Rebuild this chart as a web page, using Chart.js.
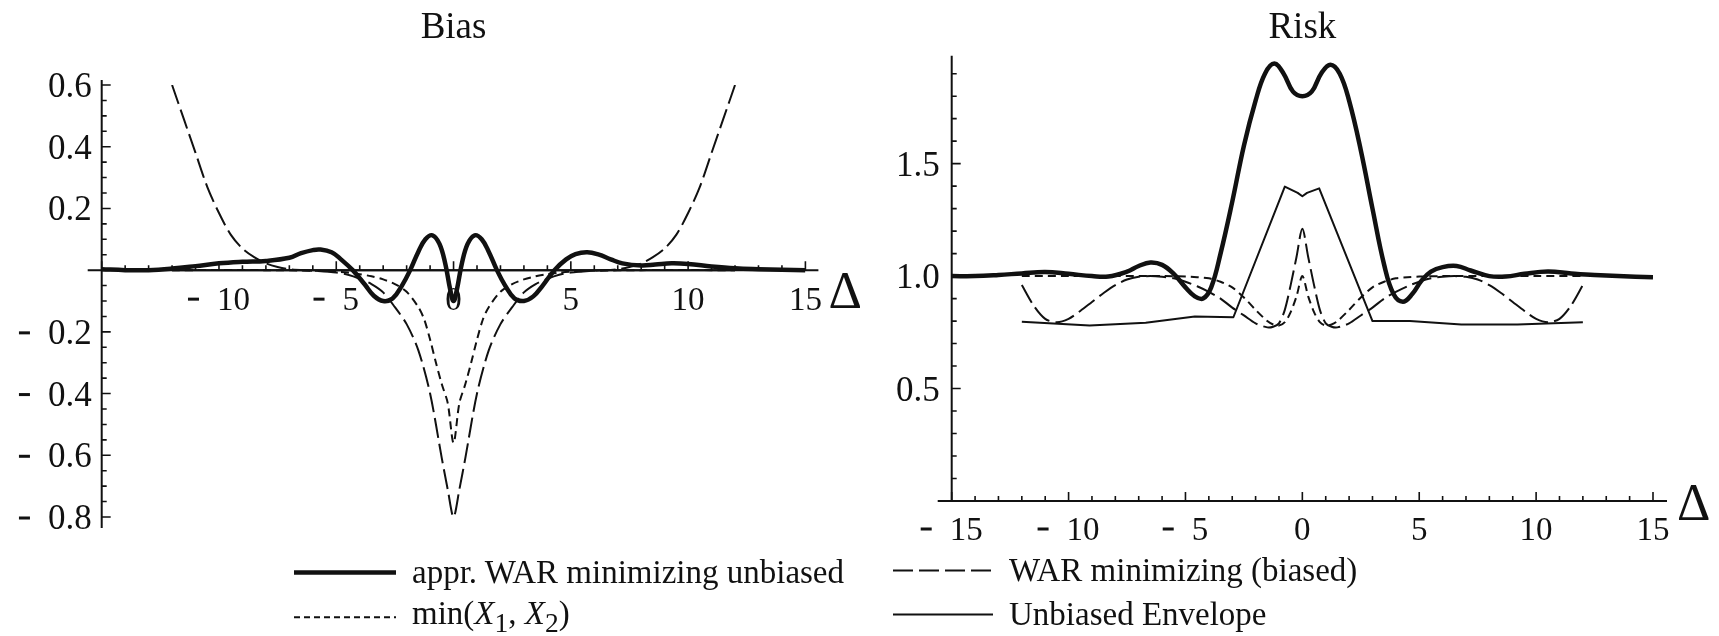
<!DOCTYPE html>
<html>
<head>
<meta charset="utf-8">
<script src="https://cdn.jsdelivr.net/npm/chart.js@4.4.1/dist/chart.umd.min.js"></script>
<style>
  html, body { margin: 0; padding: 0; background: #fff; }
  #page { position: relative; width: 1719px; height: 636px; overflow: hidden;
          font-family: "Liberation Serif", serif; color: #111; }
  #page canvas { position: absolute; left: 0; top: 0; }
  .key { position: absolute; display: flex; align-items: center; font-size: 33px;
         white-space: nowrap; transform: translateY(-50%); }
  .key svg { margin-right: 16px; }
</style>
</head>
<body>
<div id="page">
  <canvas id="bias" width="1719" height="636"></canvas>
  <canvas id="risk" width="1719" height="636"></canvas>

  <div class="key" style="left:294px; top:572px">
    <svg width="102" height="10"><line x1="0" y1="5" x2="102" y2="5" stroke="#111" stroke-width="4.5"/></svg>
    <span>appr. WAR minimizing unbiased</span>
  </div>
  <div class="key" style="left:294px; top:617px">
    <svg width="102" height="10"><line x1="0" y1="5" x2="102" y2="5" stroke="#111" stroke-width="2" stroke-dasharray="6 4"/></svg>
    <span>min(<i>X</i><sub>1</sub>, <i>X</i><sub>2</sub>)</span>
  </div>
  <div class="key" style="left:893px; top:570px">
    <svg width="100" height="10"><line x1="0" y1="5" x2="100" y2="5" stroke="#111" stroke-width="2" stroke-dasharray="20 6"/></svg>
    <span>WAR minimizing (biased)</span>
  </div>
  <div class="key" style="left:893px; top:614px">
    <svg width="100" height="10"><line x1="0" y1="5" x2="100" y2="5" stroke="#111" stroke-width="2"/></svg>
    <span>Unbiased Envelope</span>
  </div>
</div>

<script>
// ---- Bias panel ----
const biasWarX = [-15, -14, -13, -12, -11, -10, -9, -8, -7, -6.5, -6, -5.7, -5.2, -4.8, -4.3, -3.8, -3.4, -3, -2.6, -2.2, -1.85, -1.5, -1.2, -0.9, -0.6, -0.35, -0.15,
  0, 0.15, 0.35, 0.6, 0.9, 1.2, 1.5, 1.85, 2.2, 2.6, 3, 3.4, 3.8, 4.3, 4.8, 5.2, 5.7, 6.2, 6.7, 7.2, 8, 8.6, 9.3, 10, 11, 12, 13, 14, 15];
const biasWarY = [0.003, 0, 0, 0.005, 0.013, 0.022, 0.027, 0.03, 0.04, 0.055, 0.065, 0.067, 0.058, 0.035, 0, -0.045, -0.083, -0.1, -0.092, -0.05, 0, 0.06, 0.1, 0.113, 0.085, 0.02, -0.06,
  -0.1, -0.06, 0.02, 0.085, 0.113, 0.1, 0.06, 0, -0.05, -0.092, -0.1, -0.085, -0.05, 0, 0.035, 0.052, 0.058, 0.05, 0.035, 0.022, 0.015, 0.018, 0.022, 0.02, 0.012, 0.006, 0.003, 0.001, 0];

const biasBiasedX = [-12, -11.5, -11, -10.5, -10, -9.5, -9, -8.5, -8, -7.5, -7, -6, -5, -4.5, -4, -3.5, -3, -2.5, -2, -1.5, -1, -0.5, -0.25,
  0, 0.25, 0.5, 1, 1.5, 2, 2.5, 3, 3.5, 4, 4.5, 5, 6, 7, 7.5, 8, 8.5, 9, 9.5, 10, 10.5, 11, 11.5, 12];
const biasBiasedY = [0.6, 0.49, 0.38, 0.27, 0.185, 0.115, 0.07, 0.042, 0.022, 0.01, 0.003, -0.002, -0.008, -0.015, -0.028, -0.045, -0.072, -0.12, -0.175, -0.26, -0.4, -0.61, -0.71,
  -0.8, -0.71, -0.61, -0.4, -0.26, -0.175, -0.12, -0.072, -0.045, -0.028, -0.015, -0.008, -0.002, 0.003, 0.01, 0.022, 0.042, 0.07, 0.115, 0.185, 0.27, 0.38, 0.49, 0.6];

const biasMinX = [-12, -8, -6, -5, -4.5, -4, -3.5, -3, -2.5, -2, -1.5, -1.25, -1, -0.75, -0.5, -0.25,
  0, 0.25, 0.5, 0.75, 1, 1.25, 1.5, 2, 2.5, 3, 3.5, 4, 4.5, 5, 6, 8, 12];
const biasMinY = [0, 0, -0.002, -0.005, -0.008, -0.013, -0.02, -0.03, -0.045, -0.07, -0.12, -0.16, -0.225, -0.3, -0.37, -0.43,
  -0.56, -0.43, -0.37, -0.3, -0.225, -0.16, -0.12, -0.07, -0.045, -0.03, -0.02, -0.013, -0.008, -0.005, -0.002, 0, 0];

const biasEnvX = [-12, 12];
const biasEnvY = [0, 0];

const biasXTicks = [-10, -5, 0, 5, 10, 15];
const biasYTicks = [0.6, 0.4, 0.2, -0.2, -0.4, -0.6, -0.8];

// ---- Risk panel ----
const riskWarX = [-15, -14, -13, -12, -11, -10, -9, -8.3, -7.5, -7, -6.5, -6, -5.5, -5, -4.6, -4.25, -3.9, -3.5, -3, -2.5, -2, -1.6, -1.2, -0.8, -0.4,
  0, 0.4, 0.8, 1.2, 1.6, 2, 2.5, 3, 3.5, 3.9, 4.3, 4.7, 5.1, 5.5, 6, 6.6, 7.2, 8, 8.7, 9.5, 10.5, 11.5, 12.5, 13.5, 15];
const riskWarY = [1.0, 1.0, 1.005, 1.012, 1.018, 1.01, 1.0, 0.998, 1.02, 1.045, 1.06, 1.05, 1.01, 0.95, 0.91, 0.9, 0.95, 1.1, 1.33, 1.58, 1.78, 1.9, 1.945, 1.9, 1.82,
  1.8, 1.82, 1.9, 1.94, 1.9, 1.78, 1.56, 1.3, 1.05, 0.92, 0.886, 0.92, 0.98, 1.02, 1.04, 1.045, 1.025, 1.0, 0.998, 1.01, 1.02, 1.012, 1.005, 1.0, 0.995];

const riskBiasedX = [-12, -11.5, -11, -10.5, -10, -9.5, -9, -8.5, -8, -7.5, -7, -6.5, -6, -5.5, -5, -4.5, -4, -3.5, -3, -2.5, -2, -1.5, -1.25, -1, -0.75, -0.5, -0.25,
  0, 0.25, 0.5, 0.75, 1, 1.25, 1.5, 2, 2.5, 3, 3.5, 4, 4.5, 5, 5.5, 6, 6.5, 7, 7.5, 8, 8.5, 9, 9.5, 10, 10.5, 11, 11.5, 12];
const riskBiasedY = [0.96, 0.87, 0.81, 0.795, 0.81, 0.845, 0.885, 0.925, 0.96, 0.985, 0.997, 1.0, 0.997, 0.99, 0.975, 0.955, 0.93, 0.9, 0.86, 0.825, 0.79, 0.772, 0.775, 0.79, 0.85, 0.96, 1.085,
  1.21, 1.085, 0.96, 0.85, 0.79, 0.775, 0.772, 0.79, 0.825, 0.86, 0.9, 0.93, 0.955, 0.975, 0.99, 0.997, 1.0, 0.997, 0.985, 0.96, 0.925, 0.885, 0.845, 0.81, 0.795, 0.81, 0.87, 0.96];

const riskMinX = [-12, -10, -8, -6, -5, -4.5, -4, -3.5, -3, -2.5, -2, -1.5, -1.25, -1, -0.75, -0.5, -0.25,
  0, 0.25, 0.5, 0.75, 1, 1.25, 1.5, 2, 2.5, 3, 3.5, 4, 4.5, 5, 6, 8, 10, 12];
const riskMinY = [1, 1, 1, 1, 0.998, 0.995, 0.99, 0.975, 0.95, 0.905, 0.85, 0.8, 0.785, 0.78, 0.795, 0.84, 0.91,
  1.0, 0.91, 0.84, 0.795, 0.78, 0.785, 0.8, 0.85, 0.905, 0.95, 0.975, 0.99, 0.995, 0.998, 1, 1, 1, 1];

const riskEnvX = [-12, -9.1, -6.7, -4.6, -2.95, -0.75, -0.2, 0, 0.2, 0.72, 3.0, 4.6, 6.8, 9.2, 12];
const riskEnvY = [0.797, 0.78, 0.793, 0.82, 0.817, 1.398, 1.37, 1.355, 1.37, 1.39, 0.8, 0.8, 0.785, 0.785, 0.795];

const riskXTicks = [-15, -10, -5, 0, 5, 10, 15];
const riskYTicks = [0.5, 1.0, 1.5];

const INK = '#111';
const FONT = '"Liberation Serif", serif';

const points = (xs, ys) => xs.map((x, i) => ({ x, y: ys[i] }));

/**
 * Writes a tick number. Negative values get a short bar
 * set apart from the digits ("- 10"), the way the figure prints them.
 * align: 'center' centres the whole label on px, 'right' ends it at px.
 */
function tickNumber(ctx, v, digits, px, baseline, align) {
  const txt = Math.abs(v).toFixed(digits);
  const w = ctx.measureText(txt).width;
  const bar = 11, gap = 18;
  const total = w + (v < 0 ? bar + gap : 0);
  const left = align === 'center' ? px - total / 2 : px - total;
  ctx.textAlign = 'left';
  ctx.fillText(txt, left + total - w, baseline);
  if (v < 0) ctx.fillRect(left, baseline - 12.5, bar, 3);
}

/**
 * Draws axes through an origin with inward ticks, tick labels,
 * the panel title and the Delta label at the end of the x axis.
 */
const plotAxes = {
  id: 'plotAxes',
  beforeDatasetsDraw(chart, args, o) {
    const { ctx, scales: { x, y } } = chart;
    const ox = x.getPixelForValue(o.originX);
    const oy = y.getPixelForValue(o.originY);
    ctx.save();
    ctx.strokeStyle = INK;
    ctx.fillStyle = INK;

    ctx.lineWidth = 2;
    ctx.beginPath();
    ctx.moveTo(ox - o.xAxisPad[0], oy);
    ctx.lineTo(x.getPixelForValue(x.max) + o.xAxisPad[1], oy);
    ctx.moveTo(ox, y.getPixelForValue(y.max) - o.yAxisPad[1]);
    ctx.lineTo(ox, y.getPixelForValue(y.min) + o.yAxisPad[0]);
    ctx.stroke();

    ctx.lineWidth = 1.6;
    ctx.beginPath();
    const nx = Math.round((x.max - x.min) / o.xMinor);
    for (let i = 0; i <= nx; i++) {
      const v = x.min + i * o.xMinor;
      const px = x.getPixelForValue(v);
      const major = Math.abs(v / o.xMajor - Math.round(v / o.xMajor)) < 1e-6;
      ctx.moveTo(px, oy);
      ctx.lineTo(px, oy - (major ? 9 : 5));
    }
    const ny = Math.round((o.yTickTo - o.yTickFrom) / o.yMinor);
    for (let i = 0; i <= ny; i++) {
      const v = o.yTickFrom + i * o.yMinor;
      const py = y.getPixelForValue(v);
      const major = Math.abs(v / o.yMajor - Math.round(v / o.yMajor)) < 1e-6;
      ctx.moveTo(ox, py);
      ctx.lineTo(ox + (major ? 9 : 5), py);
    }
    ctx.stroke();

    ctx.textBaseline = 'alphabetic';
    ctx.font = '33px ' + FONT;
    o.xTicks.forEach(v => tickNumber(ctx, v, 0, x.getPixelForValue(v), oy + o.xLabelDrop, 'center'));
    ctx.font = '35px ' + FONT;
    o.yTicks.forEach(v => tickNumber(ctx, v, 1, ox - o.yLabelGap, y.getPixelForValue(v) + 12, 'right'));

    ctx.textAlign = 'center';
    ctx.font = '37px ' + FONT;
    ctx.fillText(o.title, x.getPixelForValue(0), 38);

    ctx.textAlign = 'left';
    ctx.font = '52px ' + FONT;
    ctx.fillText('\u0394', x.getPixelForValue(x.max) + o.xAxisPad[1] + 10, oy + o.deltaDrop);
    ctx.restore();
  }
};

function panel(id, xr, yr, pad, sets, axes) {
  return new Chart(document.getElementById(id), {
    type: 'line',
    data: { datasets: sets },
    plugins: [plotAxes],
    options: {
      responsive: false,
      animation: false,
      events: [],
      layout: { padding: pad },
      elements: { point: { radius: 0 }, line: { borderColor: INK, borderJoinStyle: 'round' } },
      scales: {
        x: { type: 'linear', min: xr[0], max: xr[1], display: false },
        y: { type: 'linear', min: yr[0], max: yr[1], display: false }
      },
      plugins: { legend: { display: false }, tooltip: { enabled: false }, plotAxes: axes }
    }
  });
}

const styles = {
  war: { borderWidth: 4.5, tension: 0.4 },
  biased: { borderWidth: 2, borderDash: [20, 6], tension: 0.3 },
  min: { borderWidth: 2, borderDash: [8, 5], tension: 0.3 },
  env: { borderWidth: 2, tension: 0 }
};

panel('bias', [-15, 15], [-0.8, 0.6],
  { left: 101.7, right: 1719 - 805.4, top: 85, bottom: 636 - 517 },
  [
    { data: points(biasWarX, biasWarY), ...styles.war },
    { data: points(biasBiasedX, biasBiasedY), ...styles.biased },
    { data: points(biasMinX, biasMinY), ...styles.min },
    { data: points(biasEnvX, biasEnvY), ...styles.env }
  ],
  {
    title: 'Bias', originX: -15, originY: 0,
    xAxisPad: [14, 13], yAxisPad: [11, 5],
    xMinor: 1, xMajor: 5, yMinor: 0.05, yMajor: 0.2, yTickFrom: -0.8, yTickTo: 0.6,
    xTicks: biasXTicks, yTicks: biasYTicks, xLabelDrop: 40, yLabelGap: 10, deltaDrop: 38
  });

panel('risk', [-15, 15], [0, 1.98],
  { left: 951.7, right: 1719 - 1653, top: 501 - 1.98 * 224.9, bottom: 636 - 501 },
  [
    { data: points(riskWarX, riskWarY), ...styles.war },
    { data: points(riskBiasedX, riskBiasedY), ...styles.biased },
    { data: points(riskMinX, riskMinY), ...styles.min },
    { data: points(riskEnvX, riskEnvY), ...styles.env }
  ],
  {
    title: 'Risk', originX: -15, originY: 0,
    xAxisPad: [14, 14], yAxisPad: [0, 0],
    xMinor: 1, xMajor: 5, yMinor: 0.1, yMajor: 0.5, yTickFrom: 0.1, yTickTo: 1.9,
    xTicks: riskXTicks, yTicks: riskYTicks, xLabelDrop: 39, yLabelGap: 12, deltaDrop: 19
  });
</script>
</body>
</html>
